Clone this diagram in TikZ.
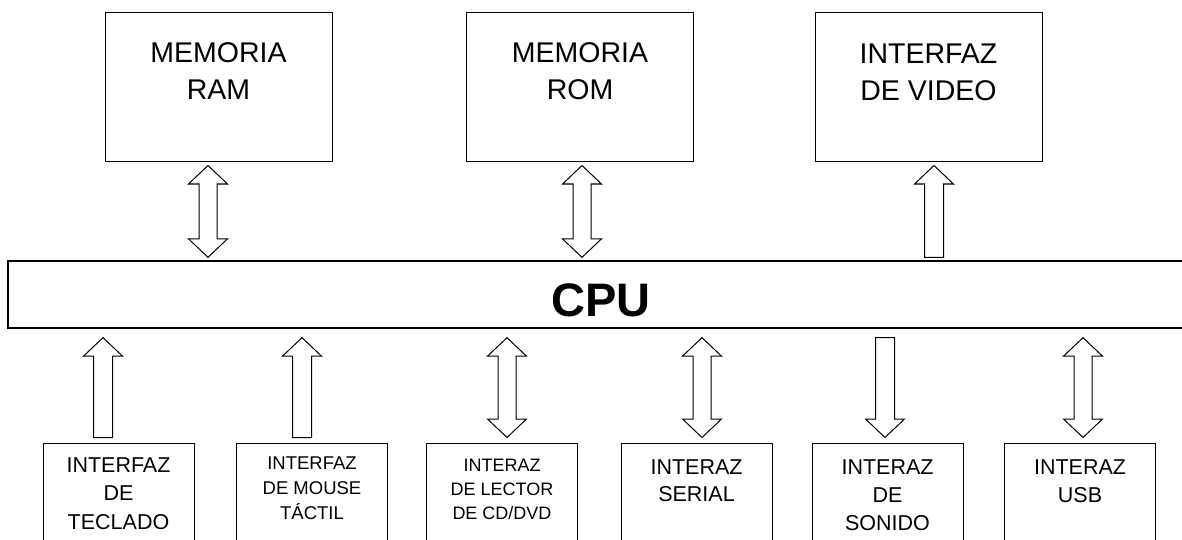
\documentclass[tikz,border=0pt]{standalone}
\usepackage{fontspec}
\setmainfont{Liberation Sans}
\usetikzlibrary{calc,positioning}

\tikzset{
  mem/.style={draw, line width=1pt, minimum width=227pt, minimum height=149pt, inner sep=0pt},
  dev/.style={draw, line width=1pt, minimum width=151pt, minimum height=120pt, inner sep=0pt},
  memtxt/.style={align=center, inner sep=0pt, font=\fontsize{28.5}{37}\selectfont},
  devtxt/.style={align=center, inner sep=0pt, font=\fontsize{21.5}{28}\selectfont},
  blk/.style={draw, line width=1pt, fill=white, line join=miter}
}

\newcommand\bothway[3]{%
  \draw[blk] let \p1=#2, \p2=#3, \p3=(#1,0) in
    (\x3,\y1) -- (\x3+19.5pt,\y1-18.5pt) -- (\x3+9pt,\y1-18.5pt) -- (\x3+9pt,\y2+18.5pt)
    -- (\x3+19.5pt,\y2+18.5pt) -- (\x3,\y2) -- (\x3-19.5pt,\y2+18.5pt) -- (\x3-9pt,\y2+18.5pt)
    -- (\x3-9pt,\y1-18.5pt) -- (\x3-19.5pt,\y1-18.5pt) -- cycle;}
\newcommand\uparr[3]{%
  \draw[blk] let \p1=#2, \p2=#3, \p3=(#1,0) in
    (\x3,\y1) -- (\x3+19.5pt,\y1-18.5pt) -- (\x3+9.5pt,\y1-18.5pt) -- (\x3+9.5pt,\y2)
    -- (\x3-9.5pt,\y2) -- (\x3-9.5pt,\y1-18.5pt) -- (\x3-19.5pt,\y1-18.5pt) -- cycle;}
\newcommand\dnarr[3]{%
  \draw[blk] let \p1=#2, \p2=#3, \p3=(#1,0) in
    (\x3,\y2) -- (\x3+19.5pt,\y2+18.5pt) -- (\x3+9.5pt,\y2+18.5pt) -- (\x3+9.5pt,\y1)
    -- (\x3-9.5pt,\y1) -- (\x3-9.5pt,\y2+18.5pt) -- (\x3-19.5pt,\y2+18.5pt) -- cycle;}

\begin{document}
\begin{tikzpicture}[x=1pt,y=-1pt]
    \useasboundingbox (0,0) rectangle (1182,540);
    \clip (0,0) rectangle (1182,540);

    \node[mem](ram) at (218.5,87.5) {};
    \node[mem](rom) at (580,87.5) {};
    \node[mem](vid) at (928.5,87.5) {};
    \node[memtxt, below=30pt of ram.north](ramtxt) {MEMORIA\\RAM};
    \node[memtxt, below=30pt of rom.north](romtxt) {MEMORIA\\ROM};
    \node[memtxt, below=31pt of vid.north](vidtxt) {INTERFAZ\\DE VIDEO};

    \node[draw, line width=1.3pt, minimum width=1186pt, minimum height=67pt, inner sep=0pt,
      text height=43pt, text depth=0pt, font=\bfseries\fontsize{47}{56}\selectfont]
      (cpu) at (601,294.5) {CPU};

    \node[dev](kbd) at (118.5,503) {};
    \node[dev](mouse) at (312,503) {};
    \node[dev](cdr) at (502,503) {};
    \node[dev](ser) at (696.5,503) {};
    \node[dev](snd) at (887.5,503) {};
    \node[dev](usb) at (1080,503) {};
    \node[devtxt, font=\fontsize{21.5}{28.5}\selectfont, below=15pt of kbd.north](kbdtxt) {INTERFAZ\\DE\\TECLADO};
    \node[devtxt, font=\fontsize{18.5}{25}\selectfont, below=14.5pt of mouse.north](mousetxt) {INTERFAZ\\DE MOUSE\\TÁCTIL};
    \node[devtxt, font=\fontsize{18}{24}\selectfont, below=16pt of cdr.north](cdrtxt) {INTERAZ\\DE LECTOR\\DE CD/DVD};
    \node[devtxt, font=\fontsize{21.5}{26.7}\selectfont, below=17pt of ser.north](sertxt) {INTERAZ\\SERIAL};
    \node[devtxt, below=17pt of snd.north](sndtxt) {INTERAZ\\DE\\SONIDO};
    \node[devtxt, below=17pt of usb.north](usbtxt) {INTERAZ\\USB};

    \bothway{208}{($(ram.south)+(0,3)$)}{($(cpu.north)+(0,-3)$)}
    \bothway{582}{($(rom.south)+(0,3)$)}{($(cpu.north)+(0,-3)$)}
    \uparr{934}{($(vid.south)+(0,3)$)}{($(cpu.north)+(0,-3)$)}

    \uparr{103}{($(cpu.south)+(0,9)$)}{($(kbd.north)+(0,-5)$)}
    \uparr{302}{($(cpu.south)+(0,9)$)}{($(mouse.north)+(0,-5)$)}
    \bothway{507}{($(cpu.south)+(0,9)$)}{($(cdr.north)+(0,-5)$)}
    \bothway{702}{($(cpu.south)+(0,9)$)}{($(ser.north)+(0,-5)$)}
    \dnarr{885}{($(cpu.south)+(0,9)$)}{($(snd.north)+(0,-5)$)}
    \bothway{1083}{($(cpu.south)+(0,9)$)}{($(usb.north)+(0,-5)$)}
\end{tikzpicture}
\end{document}
